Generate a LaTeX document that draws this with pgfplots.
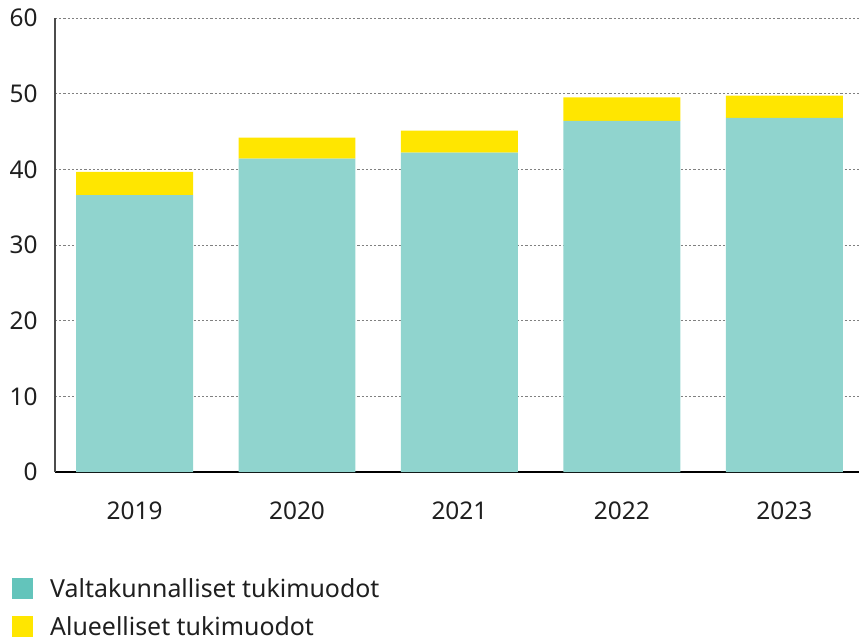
\documentclass[border=0pt]{standalone}
\usepackage{fontspec}
\setmainfont{Noto Sans}
\usepackage{pgfplots}
\pgfplotsset{compat=1.18}
\definecolor{teal1}{HTML}{90D4CE}
\definecolor{teal2}{HTML}{63C4BB}
\definecolor{yel}{HTML}{FFE600}
\definecolor{gridc}{HTML}{808080}

\begin{document}
\begin{tikzpicture}
\useasboundingbox (-55bp,-167bp) rectangle (804bp,472bp);
\begin{axis}[
  at={(0,0)}, anchor=south west,
  scale only axis,
  width=804bp, height=454bp,
  ybar stacked,
  bar width=0.72,
  xmin=-0.49, xmax=4.46,
  ymin=0, ymax=60,
  ytick={0,10,...,60},
  xtick=data,
  xticklabels={2019,2020,2021,2022,2023},
  axis x line=bottom,
  axis y line=left,
  x axis line style={-, black, line width=1.5bp},
  y axis line style={-, black!70, line width=1.3bp},
  major tick length=0pt,
  ymajorgrids,
  grid style={gridc, line width=0.9bp, dash pattern=on 2.2bp off 2bp},
  tick label style={font=\fontsize{24.5}{29}\selectfont, text=black!88},
  /pgf/number format/assume math mode=true,
  yticklabel style={xshift=-14bp},
  xticklabel style={yshift=-26bp},
  legend style={at={(-43bp,-104bp)}, anchor=north west, draw=none, fill=none,
    font=\fontsize{25}{29}\selectfont, text=black!88,
    row sep=14bp, inner sep=0pt,
    /tikz/every even column/.append style={column sep=0pt}},
  legend cell align=left,
  legend image code/.code={\fill[#1] (0bp,-10.5bp) rectangle (21bp,10.5bp);},
]
\addplot[fill=teal1, draw=none, forget plot] coordinates {
  (0,36.6) (1,41.4) (2,42.2) (3,46.4) (4,46.8)};
\addplot[fill=yel, draw=none, forget plot] coordinates {
  (0,3.05) (1,2.8) (2,2.9) (3,3.1) (4,2.95)};
\addlegendimage{fill=teal2, draw=none}
\addlegendentry{\hspace{15bp}Valtakunnalliset tukimuodot}
\addlegendimage{fill=yel, draw=none}
\addlegendentry{\hspace{15bp}Alueelliset tukimuodot}
\end{axis}
\end{tikzpicture}
\end{document}
